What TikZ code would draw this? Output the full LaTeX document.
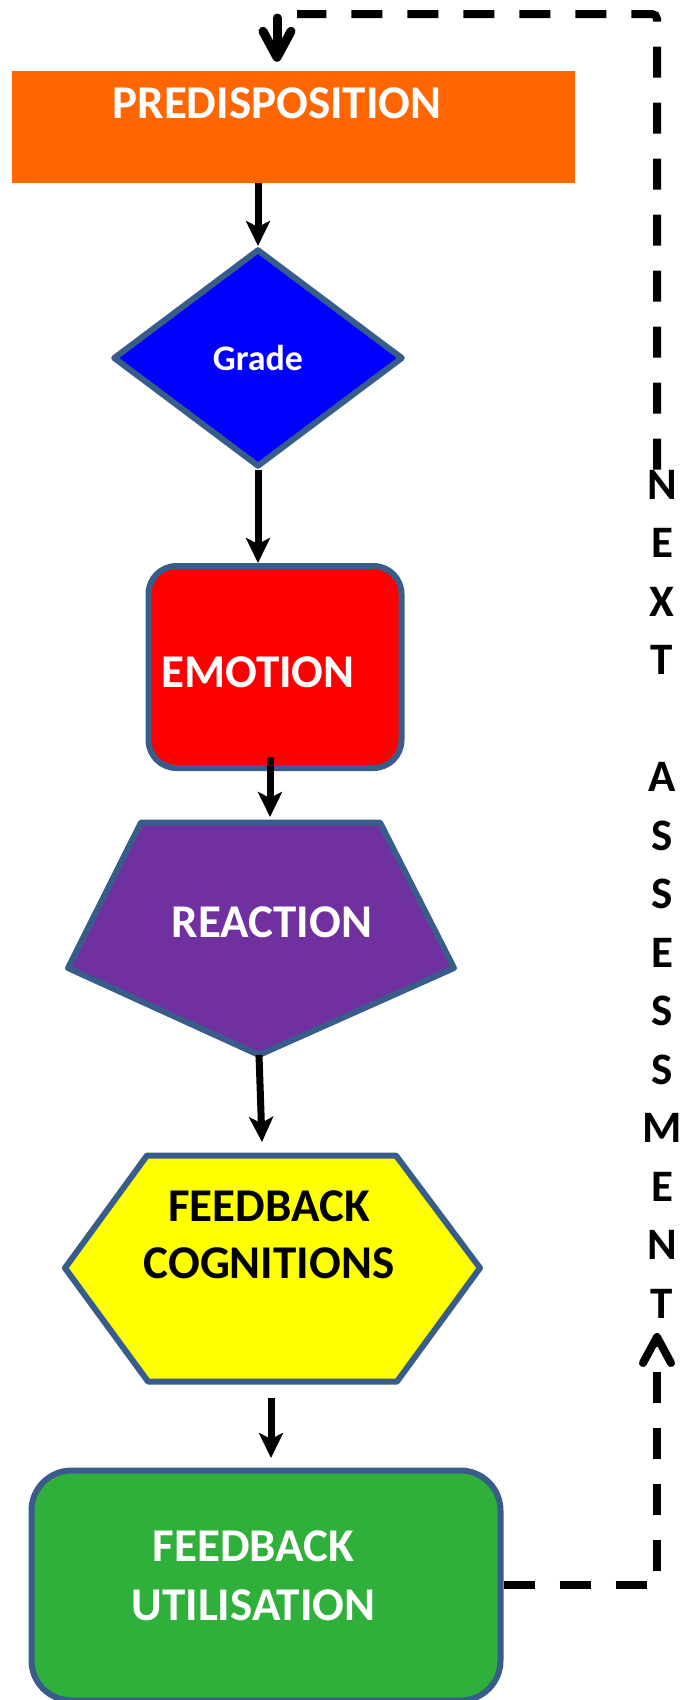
\documentclass[tikz,border=0pt]{standalone}
\usepackage{fontspec}
\setmainfont{Carlito}
\usetikzlibrary{arrows.meta,shapes.geometric}

\definecolor{ShapeLine}{RGB}{56,93,138}
\definecolor{PredOrange}{RGB}{255,102,0}
\definecolor{GradeBlue}{RGB}{0,0,255}
\definecolor{EmoRed}{RGB}{255,0,0}
\definecolor{ReactPurple}{RGB}{112,48,160}
\definecolor{CogYellow}{RGB}{255,255,0}
\definecolor{UtilGreen}{RGB}{46,176,58}

\begin{document}
\begin{tikzpicture}[x=1pt,y=-1pt,
   shapeline/.style={draw=ShapeLine, line width=6pt, line join=round},
   bigtext/.style={inner sep=0pt, align=center, font=\fontsize{47}{57}\selectfont\bfseries},
   flowarrow/.style={line width=7pt, -{Stealth[length=25pt,width=24pt,inset=6pt]}},
   loopline/.style={line width=8pt, dash pattern=on 31pt off 25pt},
   loophead/.style={-{Straight Barb[length=26pt,width=28pt,round]}}]
   %% page in pixels, y grows downwards
   \useasboundingbox (0,0) rectangle (696,1700);
   
   \node[fill=PredOrange, minimum width=563pt, minimum height=112pt, inner sep=0pt] (Pred) at (293.5,127) {};
   \node[bigtext, text=white] (PredText) at (277,103) {PREDISPOSITION};
   
   \node[diamond, shapeline, fill=GradeBlue, minimum width=290pt, minimum height=218pt, inner sep=0pt,
      text=white, font=\fontsize{36}{43}\selectfont\bfseries] (Grade) at (258,358) {Grade};
   
   \node[shapeline, fill=EmoRed, rounded corners=28pt, minimum width=253pt, minimum height=202pt] (Emotion) at (275,667) {};
   \node[bigtext, text=white] (EmotionText) at (258,672) {EMOTION};
   
   \coordinate (React1) at (141,822.5);
   \coordinate (React2) at (380,822.5);
   \coordinate (React3) at (454,968);
   \coordinate (React4) at (259,1055);
   \coordinate (React5) at (68,968);
   \draw[shapeline, fill=ReactPurple] (React1) -- (React2) -- (React3) -- (React4) -- (React5) -- cycle;
   \node[bigtext, text=white] (Reaction) at (272,922) {REACTION};
   
   \coordinate (Cog1) at (147,1155.5);
   \coordinate (Cog2) at (396,1155.5);
   \coordinate (Cog3) at (480,1268);
   \coordinate (Cog4) at (397,1381.5);
   \coordinate (Cog5) at (148,1381.5);
   \coordinate (Cog6) at (65,1268);
   \draw[shapeline, fill=CogYellow] (Cog1) -- (Cog2) -- (Cog3) -- (Cog4) -- (Cog5) -- (Cog6) -- cycle;
   \node[bigtext, text=black] (Cognitions) at (269,1235) {FEEDBACK\\COGNITIONS};
   
   \node[shapeline, fill=UtilGreen, rounded corners=40pt, minimum width=469pt, minimum height=230pt] (Util) at (266,1585.5) {};
   \node[bigtext, text=white, font=\fontsize{47}{59}\selectfont\bfseries] (UtilText) at (253.5,1575.5) {FEEDBACK\\UTILISATION};
   
   \node[inner sep=0pt, align=center, font=\fontsize{45}{58.5}\selectfont\bfseries] (Next) at (662,894)
      {N\\E\\X\\T\\[58.5pt]A\\S\\S\\E\\S\\S\\M\\E\\N\\T};
   
   %% arrows down the chain
   \coordinate (EmoOut) at (270,757);
   \coordinate (ReactIn) at (270,817);
   \coordinate (CogIn) at (262,1142);
   \coordinate (CogOut) at (271,1398);
   \coordinate (UtilIn) at (271,1458);
   \foreach \a/\b in {Pred.south -| Grade.north/Grade.north,
       Grade.south/Grade.south |- Emotion.north,
       EmoOut/ReactIn,
       React4/CogIn,
       CogOut/UtilIn}
   {
       \draw[flowarrow] (\a) -- (\b);
   };
   
   %% dashed loop back to the top
   \coordinate (LoopTip) at (657,1333);
   \coordinate (LoopCorner) at (657,1585);
   \coordinate (TopEnd) at (297,14);
   \coordinate (TopStart) at (277,18);
   \draw[loopline, loophead] (Util.east |- LoopCorner) -- (LoopCorner) -- (LoopTip);
   \draw[loopline, rounded corners=5pt] ([xshift=-5pt]Next.north) |- (TopEnd);
   \draw[line width=9pt, line cap=round, shorten >=9pt, -{Straight Barb[length=26pt,width=28pt,round]}]
      (TopStart) -- (TopStart |- Pred.north);
   
\end{tikzpicture}
\end{document}
